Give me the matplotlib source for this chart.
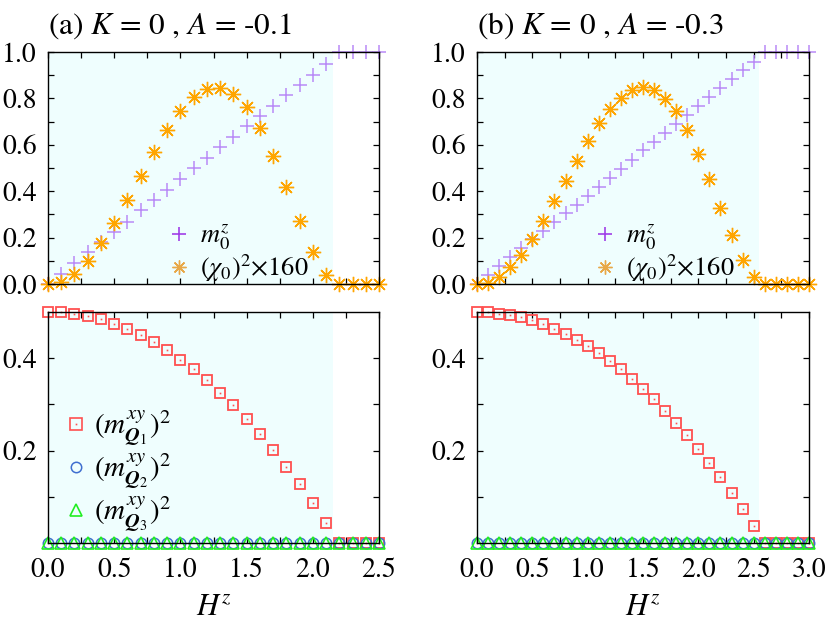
import matplotlib
matplotlib.use("Agg")
import matplotlib.pyplot as plt
from matplotlib.lines import Line2D

plt.rcParams['font.family'] = ['STIXGeneral', 'DejaVu Serif']
plt.rcParams['mathtext.fontset'] = 'stix'

# ---------------- data ----------------
H_a = [0.0, 0.1, 0.2, 0.3, 0.4, 0.5, 0.6, 0.7, 0.8, 0.9, 1.0, 1.1, 1.2, 1.3,
       1.4, 1.5, 1.6, 1.7, 1.8, 1.9, 2.0, 2.1, 2.2, 2.3, 2.4, 2.5]
mz_a = [0.0, 0.043, 0.089, 0.137, 0.180, 0.223, 0.269, 0.317, 0.361, 0.406,
        0.452, 0.498, 0.544, 0.591, 0.635, 0.679, 0.725, 0.768, 0.813, 0.858,
        0.902, 0.950, 1.0, 1.0, 1.0, 1.0]
chi_a = [0.0, 0.010, 0.043, 0.099, 0.176, 0.265, 0.363, 0.466, 0.568, 0.662,
         0.744, 0.804, 0.840, 0.845, 0.819, 0.761, 0.671, 0.553, 0.417, 0.273,
         0.140, 0.039, 0.0, 0.0, 0.0, 0.0]
q1_a = [0.500, 0.499, 0.496, 0.491, 0.484, 0.475, 0.464, 0.450, 0.434, 0.417,
        0.397, 0.376, 0.352, 0.325, 0.298, 0.268, 0.235, 0.201, 0.165, 0.127,
        0.086, 0.043, 0.0, 0.0, 0.0, 0.0]
q2_a = [0.0] * 26
q3_a = [0.0] * 26

H_b = [0.0, 0.1, 0.2, 0.3, 0.4, 0.5, 0.6, 0.7, 0.8, 0.9, 1.0, 1.1, 1.2, 1.3,
       1.4, 1.5, 1.6, 1.7, 1.8, 1.9, 2.0, 2.1, 2.2, 2.3, 2.4, 2.5, 2.6, 2.7,
       2.8, 2.9, 3.0]
mz_b = [0.0, 0.039, 0.079, 0.117, 0.154, 0.193, 0.230, 0.266, 0.305, 0.342,
        0.380, 0.419, 0.455, 0.495, 0.535, 0.576, 0.614, 0.650, 0.691, 0.729,
        0.768, 0.804, 0.845, 0.883, 0.921, 0.958, 1.0, 1.0, 1.0, 1.0, 1.0]
chi_b = [0.0, 0.006, 0.032, 0.075, 0.125, 0.194, 0.273, 0.357, 0.445, 0.531,
         0.617, 0.694, 0.755, 0.801, 0.837, 0.849, 0.835, 0.799, 0.744, 0.665,
         0.561, 0.452, 0.329, 0.212, 0.104, 0.029, 0.0, 0.0, 0.0, 0.0, 0.0]
q1_b = [0.500, 0.499, 0.496, 0.494, 0.489, 0.482, 0.474, 0.464, 0.453, 0.440,
        0.426, 0.412, 0.394, 0.376, 0.355, 0.334, 0.311, 0.286, 0.260, 0.233,
        0.204, 0.174, 0.142, 0.109, 0.074, 0.037, 0.0, 0.0, 0.0, 0.0, 0.0]
q2_b = [0.0] * 31
q3_b = [0.0] * 31

titles = [r'(a) $K$ = 0 , $A$ = -0.1', r'(b) $K$ = 0 , $A$ = -0.3']
shade_end = [2.15, 2.55]
x_max = [2.5, 3.0]

xt_a = [0.0, 0.25, 0.5, 0.75, 1.0, 1.25, 1.5, 1.75, 2.0, 2.25, 2.5]
xl_a = ['0.0', '', '0.5', '', '1.0', '', '1.5', '', '2.0', '', '2.5']
xt_b = [0.0, 0.25, 0.5, 0.75, 1.0, 1.25, 1.5, 1.75, 2.0, 2.25, 2.5, 2.75, 3.0]
xl_b = ['0.0', '', '0.5', '', '1.0', '', '1.5', '', '2.0', '', '2.5', '', '3.0']
yt_top = [0.0, 0.1, 0.2, 0.3, 0.4, 0.5, 0.6, 0.7, 0.8, 0.9, 1.0]
yl_top = ['0.0', '', '0.2', '', '0.4', '', '0.6', '', '0.8', '', '1.0']
yt_bot = [0.1, 0.2, 0.3, 0.4]
yl_bot = ['', '0.2', '', '0.4']

lab_mz = r'$m_0^z$'
lab_chi = r'$(\chi_0)^2{\times}160$'
lab_q = [r'$(m^{xy}_{\mathbfit{Q}_1})^2$', r'$(m^{xy}_{\mathbfit{Q}_2})^2$',
         r'$(m^{xy}_{\mathbfit{Q}_3})^2$']

# ---------------- style ----------------
c_mz = '#b98af7'
c_mz_leg = '#a040e8'
c_chi = '#ffa500'
c_chi_leg = '#e8a848'
c_q1 = '#ff5050'
c_q2 = '#3f6fd0'
c_q3 = '#22ee22'
shade = '#effefe'

W, Hh = 830, 626
fig = plt.figure(figsize=(W / 100, Hh / 100), dpi=100)

lefts = [48, 477]
widths = [331, 332]
top_y0, top_y1 = 52, 284
bot_y0, bot_y1 = 312, 543


def axes_px(x0, w, y0, y1):
    return fig.add_axes([x0 / W, 1 - y1 / Hh, w / W, (y1 - y0) / Hh])


def style(ax):
    ax.tick_params(direction='in', which='both', top=True, right=True,
                   length=4, width=0.9, labelsize=20)
    ax.tick_params(axis='x', pad=11)
    ax.tick_params(axis='y', pad=8)
    for s in ax.spines.values():
        s.set_linewidth(1.0)
        s.set_zorder(5)


data = [
    (H_a, mz_a, chi_a, q1_a, q2_a, q3_a, xt_a, xl_a),
    (H_b, mz_b, chi_b, q1_b, q2_b, q3_b, xt_b, xl_b),
]

star = (8, 2, 0)

for i, (H, mz, chi, q1, q2, q3, xt, xl) in enumerate(data):
    # top panel
    ax = axes_px(lefts[i], widths[i], top_y0, top_y1)
    ax.axvspan(0, shade_end[i], color=shade, lw=0, zorder=0)
    ax.plot(H, mz, ls='none', marker='+', ms=10, mew=1.1, color=c_mz,
            clip_on=False, zorder=3)
    ax.plot(H, chi, ls='none', marker=star, ms=11, mew=1.0, color=c_chi,
            clip_on=False, zorder=4)
    ax.set_xlim(0, x_max[i])
    ax.set_ylim(0, 1.0)
    ax.set_xticks(xt)
    ax.set_xticklabels([])
    ax.set_yticks(yt_top)
    ax.set_yticklabels(yl_top)
    style(ax)
    ax.set_title(titles[i], loc='left', fontsize=22.5, pad=13)
    handles = [
        Line2D([], [], ls='none', marker='+', ms=10, mew=1.2, color=c_mz_leg),
        Line2D([], [], ls='none', marker=star, ms=10, mew=1.0, color=c_chi_leg),
    ]
    lx = [0.365, 0.353][i]
    ax.legend(handles, [lab_mz, lab_chi], loc='upper left',
              bbox_to_anchor=(lx, 0.265), frameon=False, fontsize=19,
              borderpad=0, borderaxespad=0, handlelength=0.8,
              handletextpad=0.4, labelspacing=0.0)

    # bottom panel
    ax2 = axes_px(lefts[i], widths[i], bot_y0, bot_y1)
    ax2.axvspan(0, shade_end[i], color=shade, lw=0, zorder=0)
    ax2.plot(H, q1, ls='none', marker='s', ms=7.5, mew=1.3, mfc='none',
             mec=c_q1, clip_on=False, zorder=3)
    ax2.plot(H, q1, ls='none', marker='s', ms=1.2, mew=0, color=c_q1,
             clip_on=False, zorder=3)
    ax2.plot(H, q2, ls='none', marker='o', ms=7.5, mew=1.1, mfc='none',
             mec=c_q2, clip_on=False, zorder=3)
    ax2.plot(H, q3, ls='none', marker='^', ms=8.5, mew=1.2, mfc='none',
             mec=c_q3, clip_on=False, zorder=3)
    ax2.set_xlim(0, x_max[i])
    ax2.set_ylim(0, 0.5)
    ax2.set_xticks(xt)
    ax2.set_xticklabels(xl)
    ax2.set_yticks(yt_bot)
    ax2.set_yticklabels(yl_bot)
    style(ax2)
    ax2.set_xlabel(r'$H^z$', fontsize=22)
    ax2.xaxis.set_label_coords(0.5, -0.22)
    if i == 0:
        h2 = [
            (Line2D([], [], ls='none', marker='s', ms=8, mew=1.2, mfc='none', mec=c_q1),
             Line2D([], [], ls='none', marker='s', ms=1.2, mew=0, color=c_q1)),
            Line2D([], [], ls='none', marker='o', ms=7.5, mew=1.1, mfc='none', mec=c_q2),
            Line2D([], [], ls='none', marker='^', ms=8.5, mew=1.2, mfc='none', mec=c_q3),
        ]
        ax2.legend(h2, lab_q, loc='upper left', bbox_to_anchor=(0.05, 0.58),
                   frameon=False, fontsize=21, borderpad=0, borderaxespad=0,
                   handlelength=0.8, handletextpad=0.2, labelspacing=0.12)

fig.savefig('out.png', dpi=100)
